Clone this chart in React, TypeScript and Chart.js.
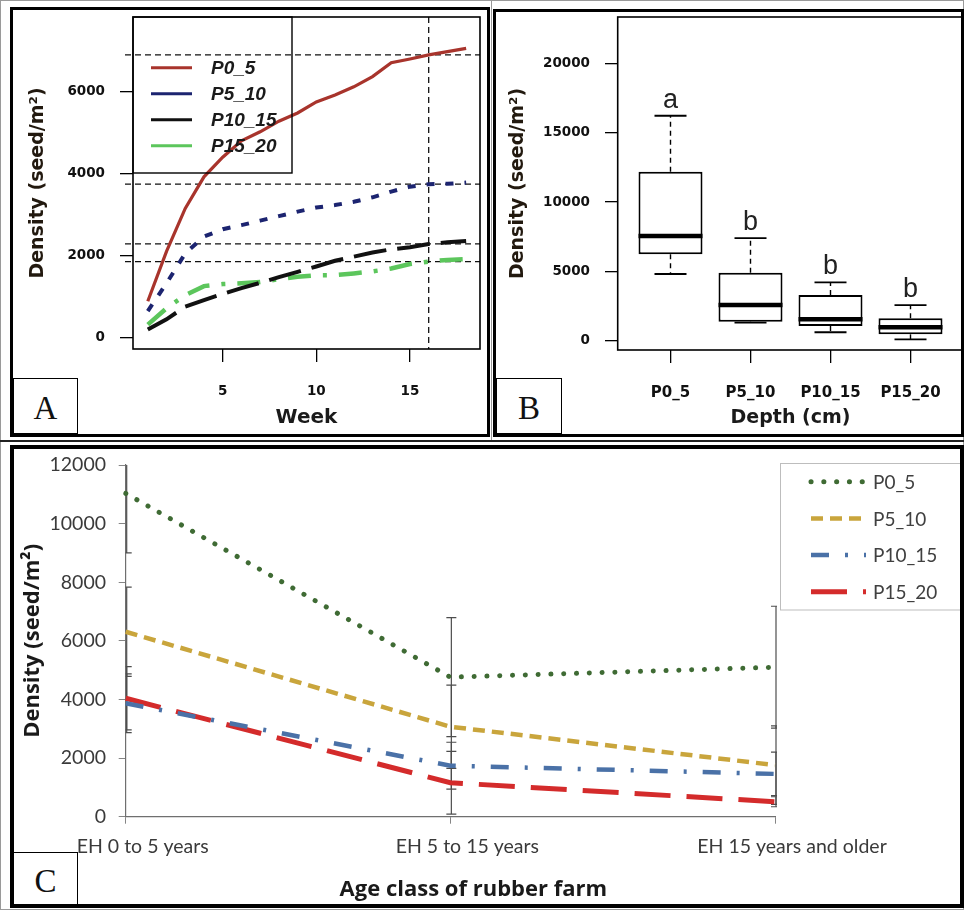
import React, { useEffect, useRef } from "react";
import { Chart, registerables } from "chart.js";

Chart.register(...registerables);

// ---------------- Panel A data (weekly cumulative density) ----------------
const weeks = [1, 2, 3, 4, 5, 6, 7, 8, 9, 10, 11, 12, 13, 14, 15, 16, 17, 18];
const weekTicks = [5, 10, 15];
const densityTicksA = [0, 2000, 4000, 6000];
const p05Week = [880, 2100, 3150, 3920, 4400, 4800, 5020, 5280, 5480, 5750, 5920, 6120, 6370, 6710, 6800, 6900, 6980, 7060];
const p510Week = [640, 1320, 2050, 2460, 2640, 2740, 2850, 2960, 3070, 3170, 3230, 3310, 3420, 3560, 3680, 3740, 3750, 3780];
const p1015Week = [190, 440, 750, 910, 1060, 1200, 1330, 1470, 1600, 1730, 1870, 1970, 2070, 2150, 2200, 2280, 2320, 2350];
const p1520Week = [310, 710, 1030, 1250, 1300, 1320, 1350, 1420, 1480, 1515, 1520, 1560, 1610, 1680, 1790, 1850, 1890, 1910];
const refWeek = 16;

// ---------------- Panel B data (box plot by depth) ----------------
const depthLabels = ["P0_5", "P5_10", "P10_15", "P15_20"];
const boxQ1 = [6230, 1370, 1060, 460];
const boxQ3 = [12190, 4900, 3300, 1620];
const boxMedian = [7550, 2570, 1540, 970];
const whiskerLow = [4810, 1300, 610, 100];
const whiskerHigh = [16220, 7400, 4210, 2570];
const groupLetters = ["a", "b", "b", "b"];
const densityTicksB = [0, 5000, 10000, 15000, 20000];

// ---------------- Panel C data (by age class) ----------------
const ageClasses = ["EH 0 to 5 years", "EH 5 to 15 years", "EH 15 years and older"];
const p05Age = [11030, 4760, 5100];
const p510Age = [6310, 3070, 1760];
const p1015Age = [3870, 1740, 1460];
const p1520Age = [4040, 1160, 510];
const p05Err = [2030, 2030, 2080];
const p510Err = [1520, 1420, 1340];
const p1015Err = [1000, 800, 740];
const p1520Err = [1080, 1070, 170];
const densityTicksC = [0, 2000, 4000, 6000, 8000, 10000, 12000];

const BOLD = "DejaVu Sans";
const CAL = "Lato";
const CALB = "Open Sans";

const fixY = (w: number) => (s: any) => {
  s.width = w;
  s.paddingTop = 0; s.paddingBottom = 0; s.paddingLeft = 0; s.paddingRight = 0;
};
const fixX = (h: number) => (s: any) => {
  s.height = h;
  s.paddingTop = 0; s.paddingBottom = 0; s.paddingLeft = 0; s.paddingRight = 0;
};
const setTicks = (vals: number[]) => (s: any) => {
  s.ticks = vals.map((v) => ({ value: v }));
};

const framePlugin = {
  id: "frameBox",
  afterDatasetsDraw(chart: any) {
    const { ctx, chartArea: a } = chart;
    ctx.save();
    ctx.strokeStyle = "#000";
    ctx.lineWidth = 1.6;
    ctx.setLineDash([]);
    ctx.strokeRect(a.left, a.top, a.right - a.left, a.bottom - a.top);
    ctx.restore();
  },
};

function line(ctx: any, x1: number, y1: number, x2: number, y2: number) {
  ctx.beginPath();
  ctx.moveTo(x1, y1);
  ctx.lineTo(x2, y2);
  ctx.stroke();
}

// ---------------- Panel A ----------------
const seriesA = [
  { label: "P0_5", data: p05Week, color: "#A8342C", width: 3.2, dash: [] as number[] },
  { label: "P5_10", data: p510Week, color: "#1C2470", width: 4, dash: [8, 11] },
  { label: "P10_15", data: p1015Week, color: "#111111", width: 4, dash: [33, 11] },
  { label: "P15_20", data: p1520Week, color: "#5CC65C", width: 4.5, dash: [23, 12, 4, 12] },
];

const refLinesA = {
  id: "refLinesA",
  beforeDatasetsDraw(chart: any) {
    const { ctx, chartArea: a, scales } = chart;
    const idx = weeks.indexOf(refWeek);
    ctx.save();
    ctx.strokeStyle = "#111";
    ctx.lineWidth = 1.3;
    ctx.setLineDash([6, 4]);
    seriesA.forEach((s) => {
      const py = scales.y.getPixelForValue(s.data[idx]);
      line(ctx, a.left - 8, py, a.right, py);
    });
    const px = scales.x.getPixelForValue(refWeek);
    line(ctx, px, a.top, px, a.bottom);
    ctx.restore();
  },
};

const legendA = {
  id: "legendA",
  afterDatasetsDraw(chart: any) {
    const { ctx, chartArea: a } = chart;
    ctx.save();
    ctx.strokeStyle = "#000";
    ctx.lineWidth = 1.4;
    ctx.setLineDash([]);
    ctx.strokeRect(a.left, a.top, 159, 156);
    chart.data.datasets.forEach((ds: any, i: number) => {
      const yy = a.top + 50.7 + i * 26;
      ctx.strokeStyle = ds.borderColor;
      ctx.lineWidth = 3;
      line(ctx, a.left + 18, yy, a.left + 59, yy);
      ctx.fillStyle = "#1a1a1a";
      ctx.font = 'italic bold 19px "Liberation Sans"';
      ctx.textBaseline = "middle";
      ctx.textAlign = "left";
      ctx.fillText(ds.label, a.left + 78, yy + 1);
    });
    ctx.restore();
  },
};

function makeA() {
  return {
    type: "line",
    data: {
      datasets: seriesA.map((s) => ({
        label: s.label,
        data: weeks.map((w, i) => ({ x: w, y: s.data[i] })),
        borderColor: s.color,
        borderWidth: s.width,
        borderDash: s.dash,
        borderCapStyle: "butt",
        pointRadius: 0,
        tension: 0,
        fill: false,
      })),
    },
    options: {
      responsive: false,
      animation: false,
      events: [],
      layout: { padding: { left: 0, top: 17, right: 10, bottom: 0 } },
      plugins: { legend: { display: false }, tooltip: { enabled: false } },
      scales: {
        x: {
          type: "linear",
          min: 0.21,
          max: 18.74,
          afterFit: fixX(91),
          afterBuildTicks: setTicks(weekTicks),
          grid: { drawOnChartArea: false, drawTicks: true, tickLength: 13, color: "#000", lineWidth: 1.3 },
          border: { display: false },
          ticks: {
            padding: 21,
            autoSkip: false,
            maxRotation: 0,
            color: "#111",
            font: { family: BOLD, size: 13.5, weight: "bold" },
            callback: (v: any) => String(v),
          },
          title: {
            display: true,
            text: "Week",
            color: "#1a1a1a",
            font: { family: BOLD, size: 20, weight: "bold" },
            padding: { top: 0, bottom: 10 },
          },
        },
        y: {
          type: "linear",
          min: -286,
          max: 7825,
          afterFit: fixY(133),
          afterBuildTicks: setTicks(densityTicksA),
          grid: { drawOnChartArea: false, drawTicks: true, tickLength: 13, color: "#000", lineWidth: 1.3 },
          border: { display: false },
          ticks: {
            padding: 15,
            color: "#111",
            font: { family: BOLD, size: 13.5, weight: "bold" },
            callback: (v: any) => String(v),
          },
          title: {
            display: true,
            text: "Density (seed/m²)",
            color: "#22190f",
            font: { family: BOLD, size: 19, weight: "bold" },
            padding: { top: 27, bottom: 0 },
          },
        },
      },
    },
    plugins: [refLinesA, framePlugin, legendA],
  };
}

// ---------------- Panel B ----------------
const boxExtras = {
  id: "boxExtras",
  afterDatasetsDraw(chart: any) {
    const { ctx, scales } = chart;
    const x = scales.x;
    const y = scales.y;
    const meta = chart.getDatasetMeta(0);
    ctx.save();
    ctx.strokeStyle = "#000";
    ctx.fillStyle = "#222";
    depthLabels.forEach((_, i) => {
      const cx = x.getPixelForValue(i + 1);
      const half = meta.data[i].width / 2;
      const yMed = y.getPixelForValue(boxMedian[i]);
      const yQ1 = y.getPixelForValue(boxQ1[i]);
      const yQ3 = y.getPixelForValue(boxQ3[i]);
      const yHi = y.getPixelForValue(whiskerHigh[i]);
      const yLo = y.getPixelForValue(whiskerLow[i]);
      ctx.setLineDash([5, 4]);
      ctx.lineWidth = 1.4;
      line(ctx, cx, yQ3, cx, yHi);
      line(ctx, cx, yQ1, cx, yLo);
      ctx.setLineDash([]);
      ctx.lineWidth = 1.8;
      line(ctx, cx - half / 2, yHi, cx + half / 2, yHi);
      line(ctx, cx - half / 2, yLo, cx + half / 2, yLo);
      ctx.lineWidth = 4.5;
      line(ctx, cx - half, yMed, cx + half, yMed);
      ctx.font = '27px "Liberation Sans"';
      ctx.textAlign = "center";
      ctx.textBaseline = "alphabetic";
      ctx.fillText(groupLetters[i], cx, yHi - 8);
    });
    ctx.restore();
  },
};

function makeB() {
  return {
    type: "bar",
    data: {
      datasets: [
        {
          data: depthLabels.map((_, i) => ({ x: i + 1, y: [boxQ1[i], boxQ3[i]] })),
          backgroundColor: "#ffffff",
          borderColor: "#000000",
          borderWidth: 2,
          borderSkipped: false,
          categoryPercentage: 0.8,
          barPercentage: 1,
        },
      ],
    },
    options: {
      responsive: false,
      animation: false,
      events: [],
      layout: { padding: { left: 0, top: 17, right: 0.7, bottom: 0 } },
      plugins: { legend: { display: false }, tooltip: { enabled: false } },
      scales: {
        x: {
          type: "linear",
          min: 0.34,
          max: 4.66,
          offset: false,
          afterFit: fixX(90),
          afterBuildTicks: setTicks(depthLabels.map((_, i) => i + 1)),
          grid: { offset: false, drawOnChartArea: false, drawTicks: true, tickLength: 13, color: "#000", lineWidth: 1.3 },
          border: { display: false },
          ticks: {
            padding: 21,
            autoSkip: false,
            maxRotation: 0,
            color: "#111",
            font: { family: BOLD, size: 15, weight: "bold" },
            callback: (v: any) => depthLabels[Math.round(v) - 1] ?? "",
          },
          title: {
            display: true,
            text: "Depth (cm)",
            color: "#1a1a1a",
            font: { family: BOLD, size: 19, weight: "bold" },
            padding: { top: 0, bottom: 10.6 },
          },
        },
        y: {
          type: "linear",
          min: -670,
          max: 23340,
          beginAtZero: false,
          afterFit: fixY(127.7),
          afterBuildTicks: setTicks(densityTicksB),
          grid: { drawOnChartArea: false, drawTicks: true, tickLength: 12.7, color: "#000", lineWidth: 1.3 },
          border: { display: false },
          ticks: {
            padding: 15,
            color: "#111",
            font: { family: BOLD, size: 13.5, weight: "bold" },
            callback: (v: any) => String(v),
          },
          title: {
            display: true,
            text: "Density (seed/m²)",
            color: "#22190f",
            font: { family: BOLD, size: 19, weight: "bold" },
            padding: { top: 16.6, bottom: 0 },
          },
        },
      },
    },
    plugins: [framePlugin, boxExtras],
  };
}

// ---------------- Panel C ----------------
const seriesC = [
  { label: "P0_5", data: p05Age, err: p05Err, color: "#3F6B34", width: 5, dash: [0.1, 12.7], cap: "round" },
  { label: "P5_10", data: p510Age, err: p510Err, color: "#C9A53C", width: 4.5, dash: [12, 7], cap: "butt" },
  { label: "P10_15", data: p1015Age, err: p1015Err, color: "#4A71A7", width: 4.5, dash: [18, 16, 3, 16], cap: "butt" },
  { label: "P15_20", data: p1520Age, err: p1520Err, color: "#D42B2B", width: 5, dash: [36, 16], cap: "butt" },
];

const errorBarsC = {
  id: "errorBarsC",
  beforeDatasetsDraw(chart: any) {
    const { ctx, chartArea: a, scales } = chart;
    ctx.save();
    ctx.beginPath();
    ctx.rect(a.left, a.top, a.right - a.left + 2, a.bottom - a.top);
    ctx.clip();
    ctx.strokeStyle = "#4d4d4d";
    ctx.lineWidth = 1.2;
    ctx.setLineDash([]);
    seriesC.forEach((s) => {
      s.data.forEach((v, j) => {
        const px = scales.x.getPixelForValue(j) + 1;
        const hi = scales.y.getPixelForValue(v + s.err[j]);
        const lo = scales.y.getPixelForValue(v - s.err[j]);
        line(ctx, px, hi, px, lo);
        line(ctx, px - 5, hi, px + 5, hi);
        line(ctx, px - 5, lo, px + 5, lo);
      });
    });
    ctx.restore();
  },
};

const legendC = {
  id: "legendC",
  afterDraw(chart: any) {
    const { ctx } = chart;
    ctx.save();
    ctx.strokeStyle = "#bdbdbd";
    ctx.lineWidth = 1;
    ctx.setLineDash([]);
    ctx.strokeRect(780.5, 23.5, 183, 146.5);
    chart.data.datasets.forEach((ds: any, i: number) => {
      const yy = 41.7 + i * 36.7;
      ctx.strokeStyle = ds.borderColor;
      ctx.lineWidth = ds.borderWidth;
      ctx.lineCap = ds.borderCapStyle;
      ctx.setLineDash(ds.borderDash);
      line(ctx, 811, yy, 866, yy);
      ctx.setLineDash([]);
      ctx.lineCap = "butt";
      ctx.fillStyle = "#404040";
      ctx.font = `19px "${CAL}"`;
      ctx.textAlign = "left";
      ctx.textBaseline = "middle";
      ctx.fillText(ds.label, 873, yy + 1);
    });
    ctx.restore();
  },
};

const xTitleC = {
  id: "xTitleC",
  afterDraw(chart: any) {
    const { ctx, chartArea: a } = chart;
    ctx.save();
    ctx.fillStyle = "#1a1a1a";
    ctx.font = `bold 22px "${CALB}"`;
    ctx.textAlign = "center";
    ctx.textBaseline = "middle";
    ctx.fillText("Age class of rubber farm", (a.left + a.right) / 2 + 23, a.bottom + 73);
    ctx.restore();
  },
};

function makeC() {
  return {
    type: "line",
    data: {
      labels: ageClasses,
      datasets: seriesC.map((s) => ({
        label: s.label,
        data: s.data,
        borderColor: s.color,
        borderWidth: s.width,
        borderDash: s.dash,
        borderCapStyle: s.cap,
        pointRadius: 0,
        tension: 0,
        fill: false,
      })),
    },
    options: {
      responsive: false,
      animation: false,
      events: [],
      layout: { padding: { left: 0, top: 25, right: 189, bottom: 0 } },
      plugins: { legend: { display: false }, tooltip: { enabled: false } },
      scales: {
        x: {
          type: "category",
          offset: false,
          afterFit: fixX(93.3),
          grid: { offset: false, drawOnChartArea: false, drawTicks: true, tickLength: 7, color: "#858585", lineWidth: 1 },
          border: { display: true, color: "#6f6f6f", width: 1.2 },
          ticks: {
            padding: 11.8,
            labelOffset: 17,
            autoSkip: false,
            maxRotation: 0,
            minRotation: 0,
            color: "#3a3a3a",
            font: { family: CAL, size: 19.5 },
          },
        },
        y: {
          type: "linear",
          min: 0,
          max: 12000,
          afterFit: fixY(125.7),
          afterBuildTicks: setTicks(densityTicksC),
          grid: { drawOnChartArea: false, drawTicks: true, tickLength: 7, color: "#858585", lineWidth: 1 },
          border: { display: true, color: "#6f6f6f", width: 1.2 },
          ticks: {
            padding: 12.7,
            color: "#3a3a3a",
            font: { family: CAL, size: 19.5 },
            callback: (v: any) => String(v),
          },
          title: {
            display: true,
            text: "Density (seed/m²)",
            color: "#1a1a1a",
            font: { family: CALB, size: 22, weight: "bold" },
            padding: { top: 20, bottom: 0 },
          },
        },
      },
    },
    plugins: [errorBarsC, legendC, xTitleC],
  };
}

function ChartPanel(props: { left: number; top: number; width: number; height: number; make: () => any }) {
  const ref = useRef<HTMLCanvasElement>(null);
  useEffect(() => {
    const chart = new Chart(ref.current as HTMLCanvasElement, props.make());
    return () => chart.destroy();
  }, []);
  return (
    <canvas
      ref={ref}
      width={props.width}
      height={props.height}
      style={{ position: "absolute", left: props.left, top: props.top, width: props.width, height: props.height }}
    />
  );
}

function Frame(p: { l: number; t: number; w: number; h: number; b: number; c?: string }) {
  return (
    <div
      style={{
        position: "absolute",
        left: p.l,
        top: p.t,
        width: p.w,
        height: p.h,
        boxSizing: "border-box",
        border: `${p.b}px solid ${p.c ?? "#000"}`,
        pointerEvents: "none",
      }}
    />
  );
}

function Letter(p: { l: number; t: number; w: number; h: number; text: string }) {
  return (
    <div
      style={{
        position: "absolute",
        left: p.l,
        top: p.t,
        width: p.w,
        height: p.h,
        boxSizing: "border-box",
        border: "1px solid #000",
        background: "#fff",
        display: "flex",
        alignItems: "center",
        justifyContent: "center",
        fontFamily: '"Liberation Serif", serif',
        fontSize: 33,
        color: "#111",
        lineHeight: 1,
        paddingTop: 5,
      }}
    >
      {p.text}
    </div>
  );
}

export default function App() {
  return (
    <div style={{ position: "fixed", left: 0, top: 0, width: 964, height: 910, background: "#fff", overflow: "hidden" }}>
      <ChartPanel left={0} top={0} width={490} height={440} make={makeA} />
      <ChartPanel left={490} top={0} width={474} height={440} make={makeB} />
      <ChartPanel left={0} top={440} width={964} height={470} make={makeC} />
      <Frame l={0} t={0} w={964} h={910} b={1} c="#9a9a9a" />
      <Frame l={10} t={7} w={480} h={430} b={3} />
      <Frame l={493} t={9} w={471} h={428} b={3} />
      <Frame l={10} t={445} w={954} h={463} b={4} />
      <div style={{ position: "absolute", left: 0, top: 440, width: 964, height: 2, background: "#222" }} />
      <div style={{ position: "absolute", left: 491, top: 0, width: 1, height: 440, background: "#999" }} />
      <Letter l={13} t={378} w={65} h={56} text="A" />
      <Letter l={496} t={378} w={66} h={56} text="B" />
      <Letter l={13} t={852} w={65} h={53} text="C" />
    </div>
  );
}
